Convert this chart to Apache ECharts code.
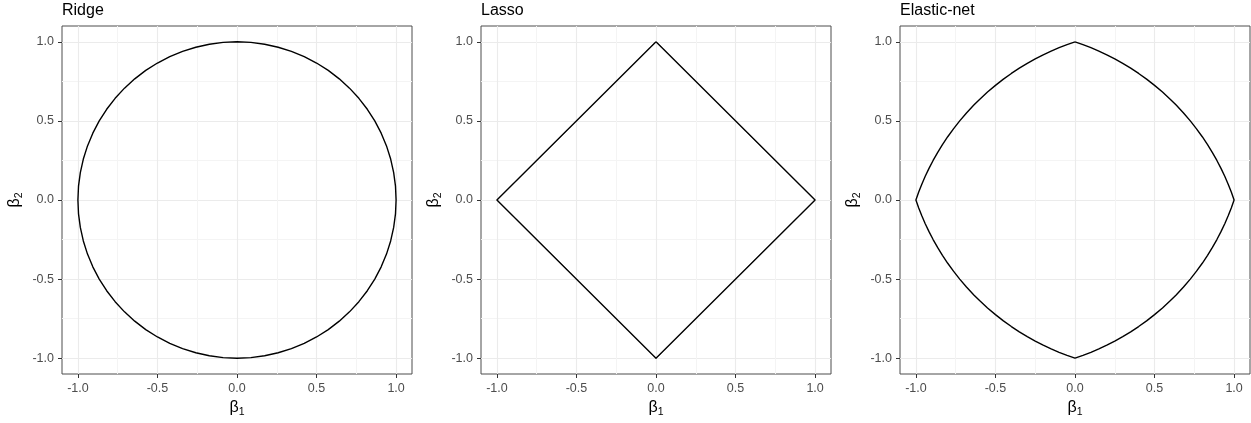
<!DOCTYPE html>
<html>
<head>
<meta charset="utf-8">
<script src="https://cdn.jsdelivr.net/npm/echarts@6/dist/echarts.min.js"></script>
<style>
html,body{margin:0;padding:0;background:#fff;}
#chart{width:1251px;height:423px;}
</style>
</head>
<body>
<div id="chart"></div>
<script>
// ---- data ----
const panelTitles = ['Ridge', 'Lasso', 'Elastic-net'];
const majorTicks = [-1, -0.5, 0, 0.5, 1];
const minorTicks = [-0.75, -0.25, 0.25, 0.75];
const axisRange = [-1.1, 1.1];

// Ridge: first-quadrant boundary points of the unit circle, from (0,1) to (1,0)
const ridgeQX = [0, 0.0872, 0.1736, 0.2588, 0.3420, 0.4226, 0.5, 0.5736, 0.6428, 0.7071,
  0.7660, 0.8192, 0.8660, 0.9063, 0.9397, 0.9659, 0.9848, 0.9962, 1];
const ridgeQY = [1, 0.9962, 0.9848, 0.9659, 0.9397, 0.9063, 0.8660, 0.8192, 0.7660, 0.7071,
  0.6428, 0.5736, 0.5, 0.4226, 0.3420, 0.2588, 0.1736, 0.0872, 0];

// Lasso: first-quadrant boundary
const lassoQX = [0, 1];
const lassoQY = [1, 0];

// Elastic-net: first-quadrant boundary, from (0,1) to (1,0)
const enetQX = [0, 0.05, 0.1, 0.15, 0.2, 0.25, 0.3, 0.35, 0.4, 0.45, 0.5, 0.55, 0.6, 0.618,
  0.6358, 0.6822, 0.7247, 0.7639, 0.8, 0.8332, 0.8638, 0.8919, 0.9177, 0.9414, 0.9629, 0.9824, 1];
const enetQY = [1, 0.9824, 0.9629, 0.9414, 0.9177, 0.8919, 0.8638, 0.8332, 0.8, 0.7639, 0.7247, 0.6822, 0.6358, 0.618,
  0.6, 0.55, 0.5, 0.45, 0.4, 0.35, 0.3, 0.25, 0.2, 0.15, 0.1, 0.05, 0];

const quadrants = [[ridgeQX, ridgeQY], [lassoQX, lassoQY], [enetQX, enetQY]];

// closed path through all four quadrants (mirror of the first-quadrant boundary)
function closedPath(qx, qy) {
  const pts = [];
  const n = qx.length;
  for (let k = 0; k < n; k++) pts.push([qx[k], qy[k]]);            // Q1: (0,1) -> (1,0)
  for (let k = n - 2; k >= 0; k--) pts.push([qx[k], -qy[k]]);      // Q4: (1,0) -> (0,-1)
  for (let k = 1; k < n; k++) pts.push([-qx[k], -qy[k]]);          // Q3: (0,-1) -> (-1,0)
  for (let k = n - 2; k >= 0; k--) pts.push([-qx[k], qy[k]]);      // Q2: (-1,0) -> (0,1)
  return pts;
}

// ---- chart ----
const FONT = '"Liberation Sans", Arial, Helvetica, sans-serif';
const gridLefts = [62, 481, 900];
const gridW = 350, gridTop = 26, gridH = 351;

const nameRich = {
  b: {fontSize: 16, fontFamily: FONT, color: '#000'},
  s: {fontSize: 10.5, fontFamily: FONT, color: '#000', padding: [9, 0, 0, 0]}
};

const option = {
  animation: false,
  backgroundColor: '#fff',
  title: [], grid: [], xAxis: [], yAxis: [], series: []
};

function fmt(v) { return Number(v).toFixed(1); }

for (let i = 0; i < 3; i++) {
  option.title.push({
    text: panelTitles[i], left: gridLefts[i], top: 3, padding: 0,
    textStyle: {fontSize: 16, fontWeight: 'normal', color: '#000', fontFamily: FONT}
  });
  option.grid.push({
    left: gridLefts[i], top: gridTop, width: gridW, height: gridH,
    show: true, borderColor: '#4d4d4d', borderWidth: 1, backgroundColor: 'transparent'
  });
  const baseAxis = {
    type: 'value', gridIndex: i, min: axisRange[0], max: axisRange[1]
  };
  // main axes
  option.xAxis.push(Object.assign({}, baseAxis, {
    position: 'bottom',
    axisLine: {show: false, onZero: false},
    axisTick: {show: true, length: 4, customValues: majorTicks, lineStyle: {color: '#333', width: 1}},
    axisLabel: {show: true, customValues: majorTicks, formatter: fmt, margin: 8,
      color: '#4d4d4d', fontSize: 12.5, fontFamily: FONT},
    splitLine: {show: true, lineStyle: {color: '#ebebeb', width: 1.1}},
    name: '{b|β}{s|1}', nameLocation: 'middle', nameGap: 24,
    nameTextStyle: {rich: nameRich}
  }));
  option.yAxis.push(Object.assign({}, baseAxis, {
    position: 'left',
    axisLine: {show: false, onZero: false},
    axisTick: {show: true, length: 4, customValues: majorTicks, lineStyle: {color: '#333', width: 1}},
    axisLabel: {show: true, customValues: majorTicks, formatter: fmt, margin: 8,
      color: '#4d4d4d', fontSize: 12.5, fontFamily: FONT},
    splitLine: {show: true, lineStyle: {color: '#ebebeb', width: 1.1}},
    name: '{b|β}{s|2}', nameLocation: 'middle', nameGap: 37,
    nameTextStyle: {rich: nameRich}
  }));
  // minor gridline axes
  option.xAxis.push(Object.assign({}, baseAxis, {
    position: 'top',
    axisLine: {show: false}, axisLabel: {show: false},
    axisTick: {show: false, customValues: minorTicks},
    splitLine: {show: true, lineStyle: {color: '#f4f4f4', width: 1}}
  }));
  option.yAxis.push(Object.assign({}, baseAxis, {
    position: 'right',
    axisLine: {show: false}, axisLabel: {show: false},
    axisTick: {show: false, customValues: minorTicks},
    splitLine: {show: true, lineStyle: {color: '#f4f4f4', width: 1}}
  }));

  option.series.push({
    type: 'line', xAxisIndex: i * 2, yAxisIndex: i * 2,
    data: closedPath(quadrants[i][0], quadrants[i][1]),
    showSymbol: false, symbol: 'none', smooth: false,
    lineStyle: {color: '#000', width: 1.4, join: 'round'},
    z: 5
  });
}

const chart = echarts.init(document.getElementById('chart'), null, {renderer: 'canvas'});
chart.setOption(option);
</script>
</body>
</html>
